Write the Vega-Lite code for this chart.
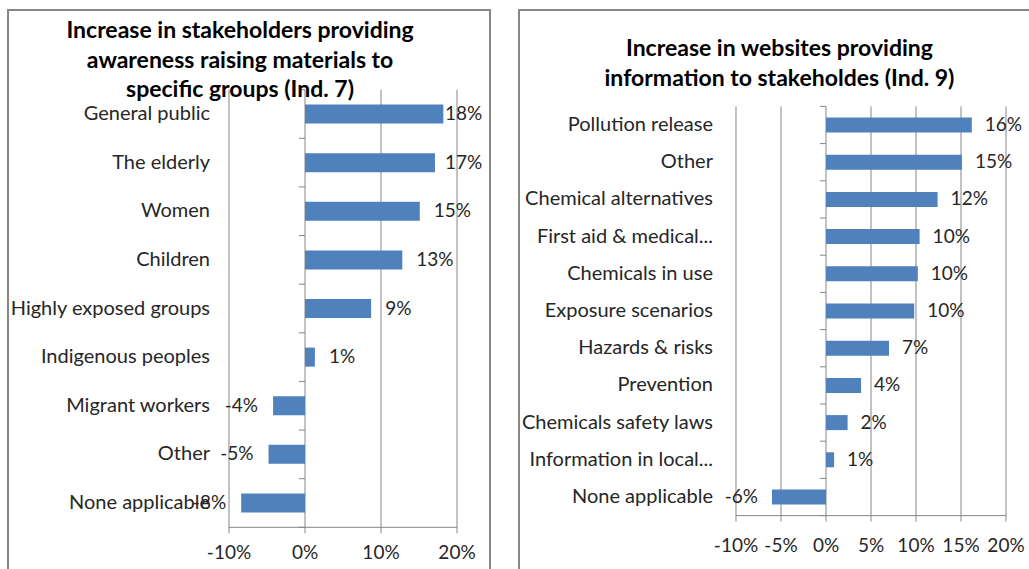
{
  "$schema": "https://vega.github.io/schema/vega-lite/v6.json",
  "padding": {"left": 7, "top": 9, "right": 0, "bottom": 0},
  "spacing": 27,
  "config": {
    "view": {"stroke": "#878787", "strokeWidth": 2},
    "text": {"font": "Lato", "fontSize": 19, "color": "#262626"},
    "rule": {"color": "#868686", "strokeWidth": 1},
    "locale": {"number": {"decimal": ".", "thousands": ",", "grouping": [3], "currency": ["$", ""], "minus": "-"}}
  },
  "datasets": {
    "left": [
      {"cat": "General public", "rank": 1, "v": 0.182},
      {"cat": "The elderly", "rank": 2, "v": 0.171},
      {"cat": "Women", "rank": 3, "v": 0.151},
      {"cat": "Children", "rank": 4, "v": 0.128},
      {"cat": "Highly exposed groups", "rank": 5, "v": 0.087},
      {"cat": "Indigenous peoples", "rank": 6, "v": 0.013},
      {"cat": "Migrant workers", "rank": 7, "v": -0.042},
      {"cat": "Other", "rank": 8, "v": -0.048},
      {"cat": "None applicable", "rank": 9, "v": -0.084}
    ],
    "right": [
      {"cat": "Pollution release", "rank": 1, "v": 0.162},
      {"cat": "Other", "rank": 2, "v": 0.151},
      {"cat": "Chemical alternatives", "rank": 3, "v": 0.124},
      {"cat": "First aid & medical...", "rank": 4, "v": 0.104},
      {"cat": "Chemicals in use", "rank": 5, "v": 0.102},
      {"cat": "Exposure scenarios", "rank": 6, "v": 0.098},
      {"cat": "Hazards & risks", "rank": 7, "v": 0.07},
      {"cat": "Prevention", "rank": 8, "v": 0.039},
      {"cat": "Chemicals safety laws", "rank": 9, "v": 0.024},
      {"cat": "Information in local...", "rank": 10, "v": 0.009},
      {"cat": "None applicable", "rank": 11, "v": -0.06}
    ],
    "lticks": [{"t": -0.1}, {"t": 0}, {"t": 0.1}, {"t": 0.2}],
    "rticks": [{"t": -0.1}, {"t": -0.05}, {"t": 0}, {"t": 0.05}, {"t": 0.1}, {"t": 0.15}, {"t": 0.2}],
    "lbounds": [{"b": 0.5}, {"b": 1.5}, {"b": 2.5}, {"b": 3.5}, {"b": 4.5}, {"b": 5.5}, {"b": 6.5}, {"b": 7.5}, {"b": 8.5}, {"b": 9.5}],
    "rbounds": [{"b": 0.5}, {"b": 1.5}, {"b": 2.5}, {"b": 3.5}, {"b": 4.5}, {"b": 5.5}, {"b": 6.5}, {"b": 7.5}, {"b": 8.5}, {"b": 9.5}, {"b": 10.5}, {"b": 11.5}],
    "one": [{}]
  },
  "hconcat": [
    {
      "width": 482,
      "height": 562,
      "layer": [
        {
          "data": {"name": "lticks"},
          "mark": "rule",
          "encoding": {
            "x": {"field": "t", "type": "quantitative", "scale": {"domain": [-0.3908, 0.2434], "nice": false, "zero": false, "padding": 0}, "axis": null},
            "y": {"datum": 0.5, "type": "quantitative", "scale": {"domain": [-1.1392, 10.4193], "nice": false, "zero": false, "reverse": true, "padding": 0}, "axis": null},
            "y2": {"datum": 9.62}
          }
        },
        {
          "data": {"name": "one"},
          "mark": "rule",
          "encoding": {
            "x": {"datum": -0.1, "type": "quantitative"},
            "x2": {"datum": 0.2},
            "y": {"datum": 9.5, "type": "quantitative"}
          }
        },
        {
          "data": {"name": "lbounds"},
          "mark": "rule",
          "encoding": {
            "x": {"datum": 0, "type": "quantitative"},
            "x2": {"datum": -0.008},
            "y": {"field": "b", "type": "quantitative"}
          }
        },
        {
          "data": {"name": "left"},
          "mark": {"type": "bar", "orient": "horizontal", "size": 19, "color": "#4F81BD"},
          "encoding": {
            "x": {"field": "v", "type": "quantitative"},
            "x2": {"datum": 0},
            "y": {"field": "rank", "type": "quantitative"}
          }
        },
        {
          "data": {"name": "left"},
          "transform": [{"filter": "datum.v >= 0 && datum.v < 0.165"}],
          "mark": {"type": "text", "align": "left", "baseline": "middle", "dx": 14},
          "encoding": {
            "x": {"field": "v", "type": "quantitative"},
            "y": {"field": "rank", "type": "quantitative"},
            "text": {"field": "v", "type": "quantitative", "format": ".0%"}
          }
        },
        {
          "data": {"name": "left"},
          "transform": [{"filter": "datum.v >= 0.165"}],
          "mark": {"type": "text", "align": "left", "baseline": "middle"},
          "encoding": {
            "x": {"datum": 0.1842, "type": "quantitative"},
            "y": {"field": "rank", "type": "quantitative"},
            "text": {"field": "v", "type": "quantitative", "format": ".0%"}
          }
        },
        {
          "data": {"name": "left"},
          "transform": [{"filter": "datum.v < 0"}],
          "mark": {"type": "text", "align": "right", "baseline": "middle", "dx": -15},
          "encoding": {
            "x": {"field": "v", "type": "quantitative"},
            "y": {"field": "rank", "type": "quantitative"},
            "text": {"field": "v", "type": "quantitative", "format": ".0%"}
          }
        },
        {
          "data": {"name": "left"},
          "mark": {"type": "text", "align": "right", "baseline": "middle", "fontSize": 20},
          "encoding": {
            "x": {"datum": -0.125, "type": "quantitative"},
            "y": {"field": "rank", "type": "quantitative"},
            "text": {"field": "cat", "type": "nominal"}
          }
        },
        {
          "data": {"name": "lticks"},
          "mark": {"type": "text", "align": "center", "baseline": "middle"},
          "encoding": {
            "x": {"field": "t", "type": "quantitative"},
            "y": {"datum": 10.03, "type": "quantitative"},
            "text": {"field": "t", "type": "quantitative", "format": ".0%"}
          }
        },
        {
          "data": {"name": "one"},
          "mark": {"type": "text", "align": "center", "baseline": "middle", "fontWeight": "bold", "fontSize": 23, "lineHeight": 29.5, "color": "#000000"},
          "encoding": {
            "x": {"datum": -0.0855, "type": "quantitative"},
            "y": {"datum": -0.70, "type": "quantitative"},
            "text": {"value": ["Increase in stakeholders providing", "awareness raising materials to", "specific groups (Ind. 7)"]}
          }
        }
      ]
    },
    {
      "width": 515,
      "height": 562,
      "layer": [
        {
          "data": {"name": "rticks"},
          "mark": "rule",
          "encoding": {
            "x": {"field": "t", "type": "quantitative", "scale": {"domain": [-0.3411, 0.2311], "nice": false, "zero": false, "padding": 0}, "axis": null},
            "y": {"datum": 0.5, "type": "quantitative", "scale": {"domain": [-2.0914, 13.0161], "nice": false, "zero": false, "reverse": true, "padding": 0}, "axis": null},
            "y2": {"datum": 11.66}
          }
        },
        {
          "data": {"name": "one"},
          "mark": "rule",
          "encoding": {
            "x": {"datum": -0.1, "type": "quantitative"},
            "x2": {"datum": 0.2},
            "y": {"datum": 11.5, "type": "quantitative"}
          }
        },
        {
          "data": {"name": "rbounds"},
          "mark": "rule",
          "encoding": {
            "x": {"datum": 0, "type": "quantitative"},
            "x2": {"datum": -0.0067},
            "y": {"field": "b", "type": "quantitative"}
          }
        },
        {
          "data": {"name": "right"},
          "mark": {"type": "bar", "orient": "horizontal", "size": 15, "color": "#4F81BD"},
          "encoding": {
            "x": {"field": "v", "type": "quantitative"},
            "x2": {"datum": 0},
            "y": {"field": "rank", "type": "quantitative"}
          }
        },
        {
          "data": {"name": "right"},
          "transform": [{"filter": "datum.v >= 0"}],
          "mark": {"type": "text", "align": "left", "baseline": "middle", "dx": 13},
          "encoding": {
            "x": {"field": "v", "type": "quantitative"},
            "y": {"field": "rank", "type": "quantitative"},
            "text": {"field": "v", "type": "quantitative", "format": ".0%"}
          }
        },
        {
          "data": {"name": "right"},
          "transform": [{"filter": "datum.v < 0"}],
          "mark": {"type": "text", "align": "right", "baseline": "middle", "dx": -14},
          "encoding": {
            "x": {"field": "v", "type": "quantitative"},
            "y": {"field": "rank", "type": "quantitative"},
            "text": {"field": "v", "type": "quantitative", "format": ".0%"}
          }
        },
        {
          "data": {"name": "right"},
          "mark": {"type": "text", "align": "right", "baseline": "middle", "fontSize": 20},
          "encoding": {
            "x": {"datum": -0.1256, "type": "quantitative"},
            "y": {"field": "rank", "type": "quantitative"},
            "text": {"field": "cat", "type": "nominal"}
          }
        },
        {
          "data": {"name": "rticks"},
          "mark": {"type": "text", "align": "center", "baseline": "middle"},
          "encoding": {
            "x": {"field": "t", "type": "quantitative"},
            "y": {"datum": 12.32, "type": "quantitative"},
            "text": {"field": "t", "type": "quantitative", "format": ".0%"}
          }
        },
        {
          "data": {"name": "one"},
          "mark": {"type": "text", "align": "center", "baseline": "middle", "fontWeight": "bold", "fontSize": 23, "lineHeight": 29.5, "color": "#000000"},
          "encoding": {
            "x": {"datum": -0.0517, "type": "quantitative"},
            "y": {"datum": -1.03, "type": "quantitative"},
            "text": {"value": ["Increase in websites providing", "information to stakeholdes (Ind. 9)"]}
          }
        }
      ]
    }
  ]
}
